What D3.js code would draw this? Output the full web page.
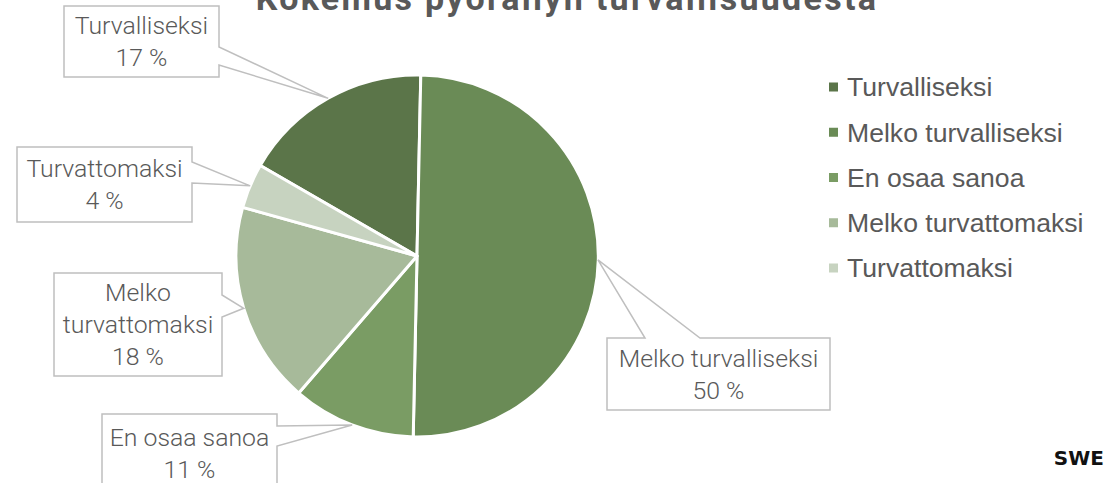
<!DOCTYPE html>
<html><head><meta charset="utf-8">
<script src="https://cdn.jsdelivr.net/npm/d3@7"></script>
<style>html,body{margin:0;padding:0;background:#fff;}svg{display:block;}</style>
</head><body>
<svg id="c" width="1110" height="483"></svg>
<script>
const title = "Kokemus pyöräilyn turvallisuudesta";
const categories = ["Turvalliseksi","Melko turvalliseksi","En osaa sanoa","Melko turvattomaksi","Turvattomaksi"];
const values = [17, 50, 11, 18, 4];
const colors = ["#5b7549","#6a8b56","#7a9c64","#a7ba9a","#c7d3c0"];
const labelLines = [["Turvalliseksi"],["Melko turvalliseksi"],["En osaa sanoa"],["Melko","turvattomaksi"],["Turvattomaksi"]];
// callout box layout: [x0,y0,x1,y1], side, wedge base positions
const boxes = [
  {b:[64,6,219,77], side:"right", w:[47,65]},
  {b:[607,338,830,410], side:"top", w:[645,700]},
  {b:[102,414,277,492], side:"right", w:[426,446]},
  {b:[54,273,222,376], side:"right", w:[295,317]},
  {b:[17,147,192,222], side:"right", w:[162,183]}
];

const svg = d3.select("#c");
const cx = 417, cy = 256, R = 181;
const grey = "#595959";

svg.append("text").attr("x", 567).attr("y", 10).attr("text-anchor","middle")
  .attr("font-family","Roboto").attr("font-weight",700).attr("font-size",34)
  .attr("letter-spacing",2.3)
  .attr("fill", grey).text(title);

const pie = d3.pie().sort(null).value(d => d).startAngle(-Math.PI/3).endAngle(-Math.PI/3 + 2*Math.PI);
const arcs = pie(values);
const arc = d3.arc().innerRadius(0).outerRadius(R);
const g = svg.append("g").attr("transform", `translate(${cx},${cy})`);
g.selectAll("path").data(arcs).join("path")
  .attr("d", arc).attr("fill", (d,i) => colors[i])
  .attr("stroke","#fff").attr("stroke-width",3).attr("stroke-linejoin","round");

// callouts
arcs.forEach((a,i) => {
  const m = (a.startAngle + a.endAngle)/2;
  const tx = cx + R*Math.sin(m), ty = cy - R*Math.cos(m);
  const bx = boxes[i]; const [x0,y0,x1,y1] = bx.b;
  let pts;
  if (bx.side === "right") {
    pts = [[x0,y0],[x1,y0],[x1,bx.w[0]],[tx,ty],[x1,bx.w[1]],[x1,y1],[x0,y1]];
  } else {
    pts = [[x0,y0],[bx.w[0],y0],[tx,ty],[bx.w[1],y0],[x1,y0],[x1,y1],[x0,y1]];
  }
  svg.append("path").attr("d", d3.line()(pts) + "Z")
    .attr("fill","#fff").attr("stroke","#bfbfbf").attr("stroke-width",1.5);
  const lines = labelLines[i].concat([values[i] + " %"]);
  const lh = 32, mid = (y0 + Math.min(y1, 492))/2;
  const t = svg.append("text").attr("text-anchor","middle")
    .attr("font-family","Roboto").attr("font-weight",300).attr("font-size",24.8).attr("fill",grey);
  lines.forEach((s,k) => {
    t.append("tspan").attr("x",(x0+x1)/2)
      .attr("y", mid + (k - (lines.length-1)/2)*lh).attr("dy","0.36em").text(s);
  });
});

// legend
const ly = d3.scalePoint().domain(categories).range([87, 268]);
const leg = svg.append("g");
categories.forEach((c,i) => {
  leg.append("rect").attr("x",829).attr("y",ly(c)-4.5).attr("width",9).attr("height",9).attr("fill",colors[i]);
  leg.append("text").attr("x",847).attr("y",ly(c)).attr("dy","0.35em")
    .attr("font-family","Liberation Sans, Arial").attr("font-size",26.6).attr("fill",grey).text(c);
});

svg.append("text").attr("x",1104).attr("y",465).attr("text-anchor","end")
  .attr("font-family","DejaVu Sans").attr("font-weight",700).attr("font-size",20)
  .attr("fill","#111").text("SWE");
</script>
</body></html>
